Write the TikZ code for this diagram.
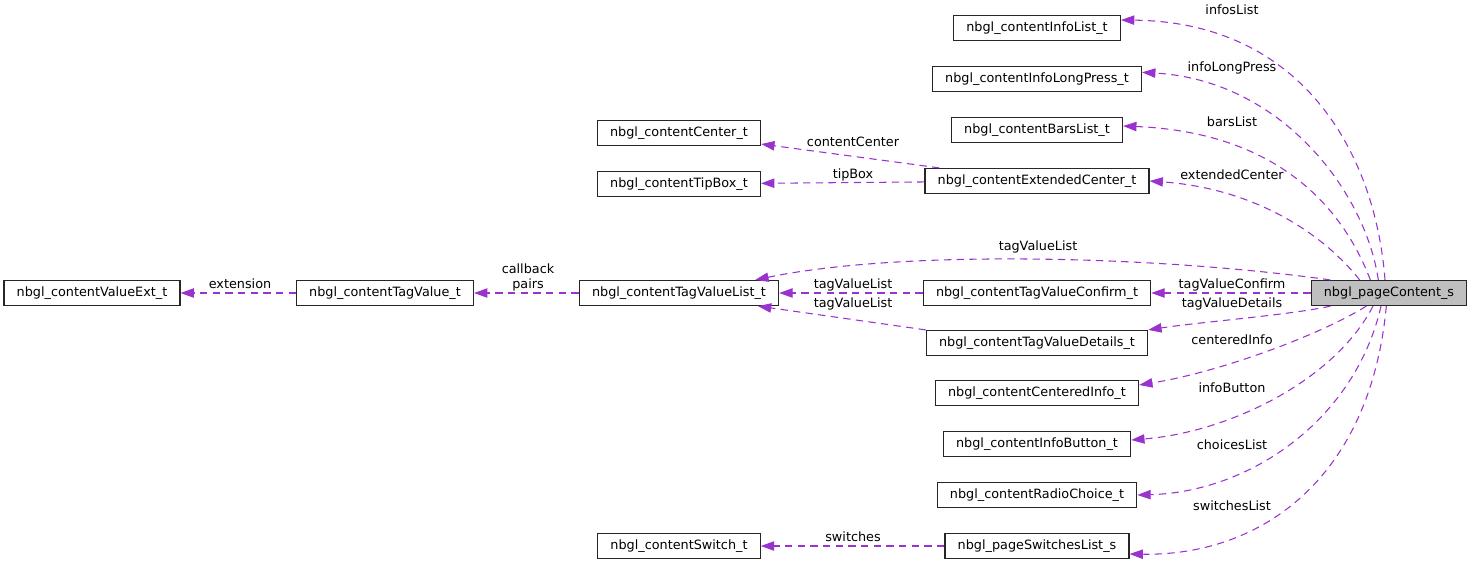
\documentclass[tikz,border=0pt]{standalone}
\usepackage{fontspec}
\setmainfont{DejaVu Sans}
\usepackage{xcolor}
\usepackage{tikz}
\usetikzlibrary{arrows.meta}
\definecolor{relpurple}{HTML}{9A32CD}
\definecolor{rootgray}{HTML}{BFBFBF}

\begin{document}
\begin{tikzpicture}[
  x=0.75pt, y=-0.75pt,
  every node/.style={font=\fontsize{9.6}{11.25}\selectfont},
  cls/.style={rectangle,draw=black!85,line width=0.9pt,fill=white,minimum height=18.75pt,inner xsep=9.5pt,inner ysep=0pt},
  root/.style={cls,fill=rootgray},
  rel/.style={draw=relpurple,line width=0.8pt,dash pattern=on 5.5pt off 4pt,-{Triangle[length=10pt,width=7pt,fill=relpurple]}},
  lbl/.style={inner sep=0pt,text height=7pt,text depth=2pt},
]
\useasboundingbox (0,0) rectangle (1472,565);
% classes
\node[root] (pc)  at (1389,293) {nbgl\_pageContent\_s};
\node[cls]  (il)  at (1037,28)  {nbgl\_contentInfoList\_t};
\node[cls]  (lp)  at (1037,79)  {nbgl\_contentInfoLongPress\_t};
\node[cls]  (bl)  at (1037,130) {nbgl\_contentBarsList\_t};
\node[cls]  (ec)  at (1037,181) {nbgl\_contentExtendedCenter\_t};
\node[cls]  (cc)  at (679,133)  {nbgl\_contentCenter\_t};
\node[cls]  (tb)  at (679,184)  {nbgl\_contentTipBox\_t};
\node[cls]  (tvl) at (679,293)  {nbgl\_contentTagValueList\_t};
\node[cls]  (tv)  at (385,293)  {nbgl\_contentTagValue\_t};
\node[cls]  (ve)  at (92,293)   {nbgl\_contentValueExt\_t};
\node[cls]  (cf)  at (1037,293) {nbgl\_contentTagValueConfirm\_t};
\node[cls]  (dt)  at (1037,343) {nbgl\_contentTagValueDetails\_t};
\node[cls]  (ci)  at (1037,393) {nbgl\_contentCenteredInfo\_t};
\node[cls]  (ib)  at (1037,444) {nbgl\_contentInfoButton\_t};
\node[cls]  (rc)  at (1037,495) {nbgl\_contentRadioChoice\_t};
\node[cls]  (sl)  at (1037,546) {nbgl\_pageSwitchesList\_s};
\node[cls]  (sw)  at (679,546)  {nbgl\_contentSwitch\_t};

% members of nbgl_pageContent_s
\draw[rel] ([xshift=-3pt]pc.north) .. controls (1375,150) and (1300,22) .. ([yshift=6pt]il.east);
\draw[rel] ([xshift=-8pt]pc.north) .. controls (1365,190) and (1280,80) .. ([yshift=5pt]lp.east);
\draw[rel] ([xshift=-14pt]pc.north) .. controls (1340,200) and (1270,132) .. ([yshift=3pt]bl.east);
\draw[rel] ([xshift=-22pt]pc.north) .. controls (1320,230) and (1250,188) .. (ec.east);
\draw[rel] ([xshift=-44pt]pc.north) .. controls (1150,255) and (900,250) .. ([xshift=-18pt]tvl.north east);
\draw[rel] (pc) -- (cf);
\draw[rel] ([xshift=15pt]pc.south west) .. controls (1290,315) and (1200,322) .. (dt.north east);
\draw[rel] ([xshift=-17pt]pc.south) .. controls (1320,335) and (1220,372) .. ([yshift=6pt]ci.east);
\draw[rel] ([xshift=-12pt]pc.south) .. controls (1335,380) and (1230,432) .. ([yshift=3pt]ib.east);
\draw[rel] ([xshift=-6pt]pc.south) .. controls (1355,420) and (1250,492) .. (rc.east);
\draw[rel] ([xshift=-2pt]pc.south) .. controls (1370,480) and (1260,556) .. ([yshift=-6pt]sl.east);
% nested members
\draw[rel] (ec) -- (cc);
\draw[rel] (ec) -- (tb);
\draw[rel] (cf) -- (tvl);
\draw[rel] (dt.north west) -- ([xshift=-16pt]tvl.south east);
\draw[rel] (tvl) -- (tv);
\draw[rel] (tv) -- (ve);
\draw[rel] (sl) -- (sw);

% labels
\node[lbl] (l-il)  at (1232,11)  {infosList};
\node[lbl] (l-lp)  at (1232,68)  {infoLongPress};
\node[lbl] (l-bl)  at (1232,123) {barsList};
\node[lbl] (l-ec)  at (1232,176) {extendedCenter};
\node[lbl] (l-tvl) at (1038,247) {tagValueList};
\node[lbl] (l-cf)  at (1232,285) {tagValueConfirm};
\node[lbl] (l-dt)  at (1232,304) {tagValueDetails};
\node[lbl] (l-ci)  at (1232,341) {centeredInfo};
\node[lbl] (l-ib)  at (1232,389) {infoButton};
\node[lbl] (l-rc)  at (1232,446) {choicesList};
\node[lbl] (l-sl)  at (1232,507) {switchesList};
\node[lbl] (l-cc)  at (853,143)  {contentCenter};
\node[lbl] (l-tb)  at (853,175)  {tipBox};
\node[lbl] (l-cft) at (853,285)  {tagValueList};
\node[lbl] (l-dtt) at (853,304)  {tagValueList};
\node[inner sep=0pt,align=center] (l-tv) at (528,277) {callback\\pairs};
\node[lbl] (l-ve)  at (240,285)  {extension};
\node[lbl] (l-sw)  at (853,538)  {switches};
\end{tikzpicture}
\end{document}
